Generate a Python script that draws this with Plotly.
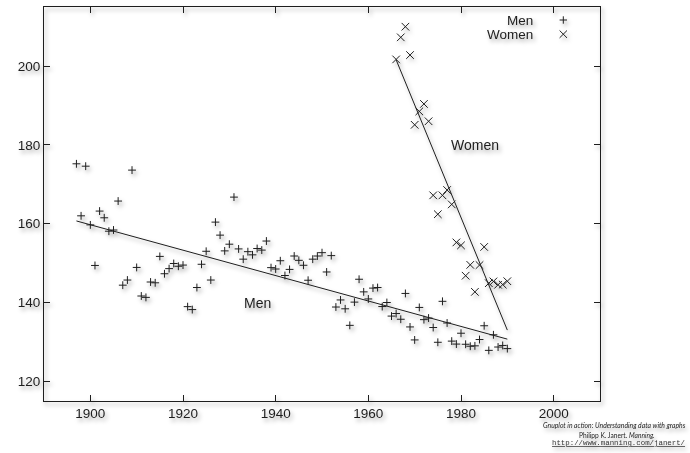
import plotly.graph_objects as go

# Boston Marathon winning times (minutes)
men_years = list(range(1897, 1991))
men_times = [
    175.2, 162.0, 174.6, 159.7, 149.4, 163.2, 161.5, 158.1, 158.4, 165.75,   # 1897-1906
    144.4, 145.7, 173.6, 148.9, 141.65, 141.3, 145.2, 145.0, 151.7, 147.3,   # 1907-1916
    148.6, 149.9, 149.2, 149.5, 138.95, 138.2, 143.8, 149.7, 153.0, 145.7,   # 1917-1926
    160.4, 157.1, 153.1, 154.8, 166.75, 153.6, 151.0, 152.9, 152.1, 153.7,   # 1927-1936
    153.3, 155.6, 148.85, 148.5, 150.6, 146.85, 148.4, 151.8, 150.7, 149.45, # 1937-1946
    145.65, 151.0, 151.8, 152.65, 147.75, 151.9, 138.85, 140.65, 138.4, 134.2,  # 1947-1956
    140.1, 145.9, 142.7, 140.9, 143.65, 143.8, 138.97, 140.0, 136.55, 137.2,  # 1957-1966
    135.75, 142.3, 133.8, 130.5, 138.75, 135.65, 136.05, 133.65, 129.9, 140.3,  # 1967-1976
    134.8, 130.2, 129.45, 132.2, 129.4, 128.9, 129.0, 130.6, 134.1, 127.85,   # 1977-1986
    131.8, 128.7, 129.1, 128.3,                                               # 1987-1990
]

women_years = list(range(1966, 1991))
women_times = [
    201.7, 207.3, 210.0, 202.8, 185.1, 188.5, 190.4, 186.0, 167.2, 162.4,
    167.2, 168.55, 164.9, 155.25, 154.5, 146.8, 149.55, 142.7, 149.5, 154.1,
    144.9, 145.35, 144.5, 144.55, 145.4,
]

# Linear trend lines (end points)
men_fit_years = [1897, 1990]
men_fit_times = [160.7, 130.7]
women_fit_years = [1966, 1990]
women_fit_times = [201.6, 133.0]

x_ticks = [1900, 1920, 1940, 1960, 1980, 2000]
y_ticks = [120, 140, 160, 180, 200]

INK = "#1e1e1e"
FONT = "Liberation Sans, Arial, sans-serif"

fig = go.Figure()

fig.add_trace(go.Scatter(
    x=men_fit_years, y=men_fit_times, mode="lines",
    line=dict(color=INK, width=1), hoverinfo="skip", showlegend=False))
fig.add_trace(go.Scatter(
    x=women_fit_years, y=women_fit_times, mode="lines",
    line=dict(color=INK, width=1), hoverinfo="skip", showlegend=False))

fig.add_trace(go.Scatter(
    x=men_years, y=men_times, mode="markers", name="Men",
    marker=dict(symbol="cross-thin", size=5.6, color=INK,
                line=dict(color=INK, width=1)),
    showlegend=False))
fig.add_trace(go.Scatter(
    x=women_years, y=women_times, mode="markers", name="Women",
    marker=dict(symbol="x-thin", size=7.6, color=INK,
                line=dict(color=INK, width=1)),
    showlegend=False))

axis_common = dict(
    showline=True, linecolor=INK, linewidth=1, mirror="ticks",
    ticks="inside", ticklen=6, tickcolor=INK, tickwidth=1,
    showgrid=False, zeroline=False,
    tickfont=dict(family=FONT, size=13.5, color=INK),
)

fig.update_xaxes(range=[1890, 2010], tickvals=x_ticks, **axis_common)
fig.update_yaxes(range=[115, 215], tickvals=y_ticks, **axis_common)

annotations = [
    # in-plot series labels
    dict(x=1936, y=140, xref="x", yref="y", text="Men", showarrow=False,
         font=dict(family=FONT, size=14, color=INK)),
    dict(x=1983, y=180, xref="x", yref="y", text="Women", showarrow=False,
         font=dict(family=FONT, size=14, color=INK)),
    # key text
    dict(x=0.883, y=0.967, xref="paper", yref="paper", text="Men",
         xanchor="right", yanchor="middle", showarrow=False,
         font=dict(family=FONT, size=13.5, color=INK)),
    dict(x=0.883, y=0.931, xref="paper", yref="paper", text="Women",
         xanchor="right", yanchor="middle", showarrow=False,
         font=dict(family=FONT, size=13.5, color=INK)),
    # credit lines
    dict(x=1.159, y=-0.060, xref="paper", yref="paper",
         text="<i>Gnuplot in action: Understanding data with graphs</i>",
         xanchor="right", yanchor="middle", showarrow=False,
         font=dict(family="Lato, sans-serif", size=6.8, color="#222")),
    dict(x=1.0306, y=-0.0863, xref="paper", yref="paper",
         text="Philipp K. Janert. <i>Manning.</i>",
         xanchor="center", yanchor="middle", showarrow=False,
         font=dict(family="Lato, sans-serif", size=6.6, color="#222")),
    dict(x=1.159, y=-0.106, xref="paper", yref="paper",
         text="<u>http://www.manning.com/janert/</u>",
         xanchor="right", yanchor="middle", showarrow=False,
         font=dict(family="Liberation Mono, monospace", size=7.4, color="#333")),
]

# key symbols, drawn in pixel units next to the key text
key_x = 0.934
shapes = [
    dict(type="path", xref="paper", yref="paper", xsizemode="pixel",
         ysizemode="pixel", xanchor=key_x, yanchor=0.967,
         path="M-3.7,0 L3.7,0 M0,-3.7 L0,3.7",
         line=dict(color=INK, width=1)),
    dict(type="path", xref="paper", yref="paper", xsizemode="pixel",
         ysizemode="pixel", xanchor=key_x, yanchor=0.931,
         path="M-3.7,-3.7 L3.7,3.7 M-3.7,3.7 L3.7,-3.7",
         line=dict(color=INK, width=1)),
]

fig.update_layout(
    width=690, height=453,
    margin=dict(l=44, r=90, t=7, b=52),
    paper_bgcolor="rgba(0,0,0,0)",
    plot_bgcolor="rgba(0,0,0,0)",
    annotations=annotations,
    shapes=shapes,
    showlegend=False,
)

# soft drop shadow under every drawn element
shadow_js = (
    "var gd=document.getElementById('{plot_id}');"
    "gd.style.filter='drop-shadow(2px 3px 2px rgba(0,0,0,0.35))';"
    "document.body.style.background='white';"
)

fig.write_html("out.html", post_script=shadow_js)
